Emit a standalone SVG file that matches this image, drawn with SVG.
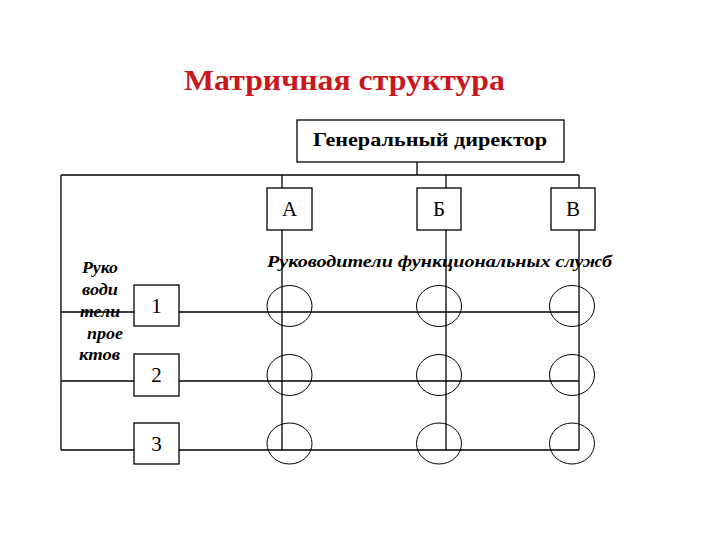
<svg xmlns="http://www.w3.org/2000/svg" width="720" height="540" viewBox="0 0 720 540">
<style>
.ln{stroke:#000;stroke-width:1.3;fill:none}
.bx{stroke:#000;stroke-width:1.3;fill:#fff}
.cr{stroke:#000;stroke-width:1;fill:none}
.t{font-family:"Liberation Serif","DejaVu Serif",serif;fill:#000}
.n{font-size:21px;text-anchor:middle}
.lab{font-size:16px;font-weight:bold;font-style:italic}
</style>
<rect width="720" height="540" fill="#fff"/>
<text class="t" x="184" y="90" font-size="30" font-weight="bold" fill="#c8181e" style="fill:#c8181e" textLength="321" lengthAdjust="spacingAndGlyphs">Матричная структура</text>
<g id="connectors">
<path class="ln" d="M417 162V175M61 175H579M61 175V450M282 175V450M446 175V450M579 175V450M61 312H579M61 381H579M61 450H579"/>
</g>
<g id="director"><rect class="bx" x="297" y="120" width="267" height="42"/><text class="t" x="313" y="146" font-size="19" font-weight="bold" textLength="234" lengthAdjust="spacingAndGlyphs">Генеральный директор</text></g>
<g id="A"><rect class="bx" x="267" y="188" width="45" height="42"/><text class="t n" x="289.5" y="216">А</text></g>
<g id="B"><rect class="bx" x="417" y="188" width="44" height="42"/><text class="t n" x="439" y="216">Б</text></g>
<g id="V"><rect class="bx" x="551" y="188" width="44" height="42"/><text class="t n" x="573" y="216">В</text></g>
<text class="t lab" x="267" y="267" textLength="345" lengthAdjust="spacingAndGlyphs">Руководители функциональных служб</text>
<g id="managers-label" class="t lab" font-size="15">
<text x="82" y="273" textLength="36" lengthAdjust="spacingAndGlyphs">Руко</text>
<text x="82" y="295" textLength="36" lengthAdjust="spacingAndGlyphs">води</text>
<text x="80" y="317" textLength="40" lengthAdjust="spacingAndGlyphs">тели</text>
<text x="87" y="339" textLength="36" lengthAdjust="spacingAndGlyphs">прое</text>
<text x="79" y="360" textLength="41" lengthAdjust="spacingAndGlyphs">ктов</text>
</g>
<g id="p1"><rect class="bx" x="134" y="285" width="45" height="41"/><text class="t n" x="156.5" y="313">1</text></g>
<g id="p2"><rect class="bx" x="134" y="354" width="45" height="42"/><text class="t n" x="156.5" y="382">2</text></g>
<g id="p3"><rect class="bx" x="134" y="423" width="45" height="41"/><text class="t n" x="156.5" y="451">3</text></g>
<g id="cells">
<ellipse class="cr" cx="289.5" cy="306" rx="22.5" ry="20.5"/>
<ellipse class="cr" cx="439" cy="306" rx="22.5" ry="20.5"/>
<ellipse class="cr" cx="572" cy="306" rx="22.5" ry="20.5"/>
<ellipse class="cr" cx="289.5" cy="375" rx="22.5" ry="20.5"/>
<ellipse class="cr" cx="439" cy="375" rx="22.5" ry="20.5"/>
<ellipse class="cr" cx="572" cy="375" rx="22.5" ry="20.5"/>
<ellipse class="cr" cx="289.5" cy="443.5" rx="22.5" ry="20.5"/>
<ellipse class="cr" cx="439" cy="443.5" rx="22.5" ry="20.5"/>
<ellipse class="cr" cx="572" cy="443.5" rx="22.5" ry="20.5"/>
</g>
</svg>
